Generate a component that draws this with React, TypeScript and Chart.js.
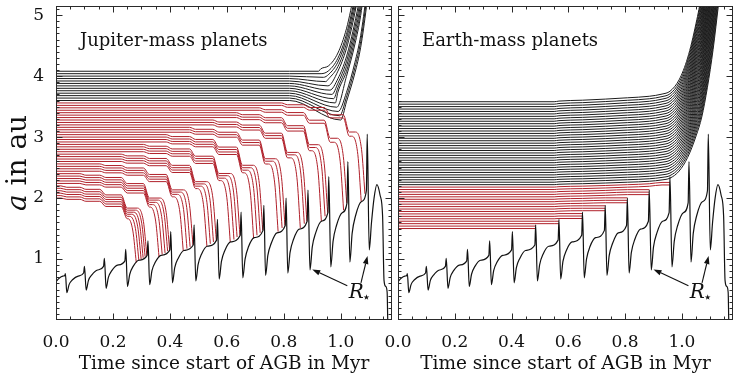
import React, { useEffect, useRef } from 'react';
import { Chart, registerables } from 'chart.js';

Chart.register(...registerables);

// ---------------- data ----------------
const xTickValues = [0, 0.2, 0.4, 0.6, 0.8, 1.0];
const yTickValues = [1, 2, 3, 4, 5];

// thermal pulse times (Myr)
const pulseTimes = [0.033, 0.100, 0.170, 0.245, 0.323, 0.403, 0.485, 0.567, 0.650, 0.730, 0.808, 0.885, 0.958, 1.025, 1.093];

// stellar radius R* (au) vs time (Myr)
const starTime = [
  0, 0.012, 0.024, 0.031, 0.033, 0.038,
  0.046, 0.058, 0.078, 0.097, 0.100, 0.106,
  0.114, 0.126, 0.146, 0.167, 0.170, 0.176,
  0.184, 0.196, 0.216, 0.242, 0.245, 0.251,
  0.259, 0.271, 0.291, 0.320, 0.323, 0.329,
  0.337, 0.349, 0.369, 0.400, 0.403, 0.409,
  0.417, 0.429, 0.449, 0.482, 0.485, 0.491,
  0.499, 0.511, 0.531, 0.564, 0.567, 0.573,
  0.581, 0.593, 0.613, 0.647, 0.650, 0.656,
  0.664, 0.676, 0.696, 0.727, 0.730, 0.736,
  0.744, 0.756, 0.776, 0.805, 0.808, 0.814,
  0.822, 0.834, 0.854, 0.882, 0.885, 0.892,
  0.900, 0.912, 0.932, 0.955, 0.958, 0.965,
  0.973, 0.985, 1.005, 1.022, 1.025, 1.032,
  1.040, 1.052, 1.072, 1.090, 1.093, 1.100,
  1.108, 1.117, 1.127, 1.138, 1.147, 1.152, 1.158, 1.163, 1.165,
];
const starRadius = [
  0.63, 0.69, 0.72, 0.73, 0.76, 0.45,
  0.58, 0.66, 0.72, 0.77, 0.88, 0.49,
  0.65, 0.74, 0.82, 0.88, 1.01, 0.52,
  0.70, 0.81, 0.90, 0.97, 1.16, 0.55,
  0.75, 0.88, 0.98, 1.06, 1.30, 0.58,
  0.81, 0.95, 1.06, 1.15, 1.45, 0.61,
  0.86, 1.01, 1.14, 1.23, 1.56, 0.64,
  0.91, 1.08, 1.21, 1.31, 1.65, 0.67,
  0.96, 1.14, 1.28, 1.39, 1.77, 0.69,
  1.00, 1.20, 1.35, 1.47, 1.88, 0.73,
  1.06, 1.26, 1.43, 1.55, 2.00, 0.77,
  1.11, 1.32, 1.49, 1.62, 2.13, 0.82,
  1.20, 1.43, 1.62, 1.76, 2.35, 0.87,
  1.29, 1.55, 1.76, 1.92, 2.60, 0.95,
  1.42, 1.71, 1.94, 2.12, 3.05, 1.15,
  1.60, 2.00, 2.22, 2.05, 1.70, 0.65, 0.55, 0.45, 0,
];

// orbital expansion factor due to stellar mass loss
const expansionTime = [0, 0.55, 0.567, 0.65, 0.73, 0.808, 0.885, 0.93, 0.958, 0.99, 1.02, 1.05, 1.07, 1.09, 1.11, 1.13, 1.15];
const expansionFactor = [1, 1, 1.003, 1.007, 1.012, 1.018, 1.025, 1.035, 1.048, 1.10, 1.20, 1.36, 1.50, 1.72, 2.00, 2.35, 2.70];

// tidal shelf fractions for the last four pulses before engulfment (k-1 .. k-4)
const tidalShelfFraction = [0.32, 0.13, 0.05, 0.02];

// Jupiter-mass planets: engulfed (red)
const jupiterRedStart = [
  2.00, 2.04, 2.08, 2.12, 2.16, 2.20, 2.24, 2.28, 2.32, 2.36,
  2.40, 2.44, 2.48, 2.52, 2.56, 2.60, 2.64, 2.68, 2.72, 2.76,
  2.80, 2.84, 2.88, 2.92, 2.96, 3.00, 3.04, 3.08, 3.12, 3.16,
  3.20, 3.24, 3.28, 3.32, 3.36, 3.40, 3.44, 3.48, 3.52, 3.56,
];
const jupiterRedEngulfTime = [
  0.282, 0.291, 0.299, 0.306, 0.313, 0.319,
  0.362, 0.373, 0.383, 0.392, 0.399,
  0.447, 0.460, 0.471, 0.481,
  0.530, 0.542, 0.553, 0.563,
  0.612, 0.625, 0.636, 0.646,
  0.694, 0.706, 0.717, 0.726,
  0.780, 0.794, 0.804,
  0.858, 0.872, 0.881,
  0.932, 0.945, 0.954,
  1.010, 1.021,
  1.072, 1.085,
];
const jupiterRedEngulfA = [
  0.94, 0.98, 1.00, 1.02, 1.04, 1.06,
  1.03, 1.07, 1.10, 1.13, 1.15,
  1.13, 1.17, 1.20, 1.23,
  1.21, 1.25, 1.28, 1.31,
  1.28, 1.32, 1.36, 1.39,
  1.34, 1.39, 1.43, 1.47,
  1.45, 1.51, 1.55,
  1.51, 1.58, 1.62,
  1.62, 1.70, 1.76,
  1.80, 1.92,
  1.94, 2.07,
];

// Jupiter-mass planets: surviving (black)
const jupiterBlackStart = [3.60, 3.64, 3.68, 3.72, 3.76, 3.80, 3.84, 3.88, 3.92, 3.96, 4.00, 4.04, 4.08];
const jupiterBlackMinTime = [1.000, 0.996, 0.991, 0.986, 0.981, 0.975, 0.969, 0.962, 0.955, 0.947, 0.939, 0.931, 0.922];
const jupiterBlackMinA = [3.28, 3.35, 3.42, 3.49, 3.56, 3.63, 3.70, 3.77, 3.84, 3.91, 3.98, 4.04, 4.08];

// Earth-mass planets: engulfed (red)
const earthRedStart = [1.50, 1.54, 1.58, 1.62, 1.66, 1.70, 1.74, 1.78, 1.82, 1.86, 1.90, 1.94, 1.98, 2.02, 2.06, 2.10, 2.14, 2.18];
const earthRedEndTime = [0.485, 0.485, 0.567, 0.567, 0.650, 0.650, 0.650, 0.730, 0.730, 0.730, 0.808, 0.808, 0.808, 0.885, 0.885, 0.885, 0.958, 0.958];

// Earth-mass planets: surviving (black)
const earthBlackStart = [2.22, 2.26, 2.30, 2.34, 2.38, 2.42, 2.46, 2.50, 2.54, 2.58, 2.62, 2.66, 2.70, 2.74, 2.78, 2.82, 2.86, 2.90, 2.94, 2.98, 3.02, 3.06, 3.10, 3.14, 3.18, 3.22, 3.26, 3.30, 3.34, 3.38, 3.42, 3.46, 3.50, 3.54, 3.58];

// annotation (data coordinates)
const rStarLabel = [1.028, 0.36];
const rStarArrows = [
  [1.023, 0.56, 0.900, 0.83],
  [1.071, 0.61, 1.094, 1.05],
];

// ---------------- builders ----------------
type P = { x: number; y: number };

const RED = 'rgb(176,32,42)';
const BLACK = '#1c1c1c';
const SERIF = '"DejaVu Serif", "Liberation Serif", serif';

function starTrack(): P[] {
  return starTime.map((t, i) => ({ x: t, y: starRadius[i] }));
}

function jupiterRedTrack(i: number): P[] {
  const a0 = jupiterRedStart[i];
  const te = jupiterRedEngulfTime[i];
  const land = jupiterRedEngulfA[i];
  const span = a0 - land;
  const before = pulseTimes.filter((p) => p < te - 0.02);
  const last = before.slice(-4).reverse();
  const pts: P[] = [{ x: 0, y: a0 }];
  let level = a0;
  for (let j = last.length - 1; j >= 0; j--) {
    const p = last[j];
    const next = a0 - tidalShelfFraction[j] * span;
    pts.push({ x: p - 0.016, y: level }, { x: p + 0.005, y: next });
    level = next;
  }
  const startPlunge = Math.max(te - 0.034, (last.length ? last[0] : 0) + 0.008);
  pts.push({ x: startPlunge, y: level }, { x: te - 0.012, y: level - 0.28 * (level - land) }, { x: te, y: land });
  return pts;
}

function jupiterBlackTrack(j: number): P[] {
  const a0 = jupiterBlackStart[j];
  const tMin = jupiterBlackMinTime[j];
  const aMin = jupiterBlackMinA[j];
  let fRef = 1;
  expansionTime.forEach((t, k) => {
    if (t <= tMin) fRef = expansionFactor[k];
  });
  const pts: P[] = [{ x: 0, y: a0 }, { x: 0.82, y: a0 }, { x: tMin, y: aMin }];
  for (let k = 0; k < expansionTime.length; k++) {
    if (expansionTime[k] > tMin + 0.005) {
      const y = (aMin * expansionFactor[k]) / fRef;
      pts.push({ x: expansionTime[k], y });
      if (y > 5.4) break;
    }
  }
  return pts;
}

function earthRedTrack(i: number): P[] {
  const a0 = earthRedStart[i];
  const end = earthRedEndTime[i];
  const pts: P[] = [];
  let f = 1;
  for (let k = 0; k < expansionTime.length; k++) {
    if (expansionTime[k] < end - 0.003) {
      f = expansionFactor[k];
      pts.push({ x: expansionTime[k], y: a0 * f });
    }
  }
  pts.push({ x: end, y: a0 * f });
  return pts;
}

function earthBlackTrack(i: number): P[] {
  const a0 = earthBlackStart[i];
  const pts: P[] = [];
  for (let k = 0; k < expansionTime.length; k++) {
    const y = a0 * expansionFactor[k];
    pts.push({ x: expansionTime[k], y });
    if (y > 5.4) break;
  }
  return pts;
}

function ds(data: P[], color: string, width: number) {
  return {
    data,
    borderColor: color,
    borderWidth: width,
    pointRadius: 0,
    fill: false,
    cubicInterpolationMode: 'monotone' as const,
  };
}

// ---------------- decoration plugin ----------------
function drawArrow(ctx: CanvasRenderingContext2D, x1: number, y1: number, x2: number, y2: number) {
  const ang = Math.atan2(y2 - y1, x2 - x1);
  const hl = 8;
  const hw = 2.8;
  const bx = x2 - hl * Math.cos(ang);
  const by = y2 - hl * Math.sin(ang);
  ctx.beginPath();
  ctx.moveTo(x1, y1);
  ctx.lineTo(bx, by);
  ctx.stroke();
  ctx.beginPath();
  ctx.moveTo(x2, y2);
  ctx.lineTo(bx + hw * Math.sin(ang), by - hw * Math.cos(ang));
  ctx.lineTo(bx - hw * Math.sin(ang), by + hw * Math.cos(ang));
  ctx.closePath();
  ctx.fill();
}

const decorPlugin = {
  id: 'decor',
  afterDatasetsDraw(chart: any, _args: any, opts: any) {
    const { ctx, chartArea } = chart;
    const xs = chart.scales.x;
    const ys = chart.scales.y;
    const L = Math.round(chartArea.left) + 0.5;
    const R = Math.round(chartArea.right) - 0.5;
    const T = Math.round(chartArea.top) + 0.5;
    const B = Math.round(chartArea.bottom) - 0.5;
    ctx.save();
    ctx.strokeStyle = '#2a2a2a';
    ctx.lineWidth = 1;
    ctx.strokeRect(L, T, R - L, B - T);
    ctx.beginPath();
    for (let i = 1; i <= 23; i++) {
      const px = Math.round(xs.getPixelForValue(i * 0.05)) + 0.5;
      const len = i % 4 === 0 ? 6 : 3;
      ctx.moveTo(px, B);
      ctx.lineTo(px, B - len);
      ctx.moveTo(px, T);
      ctx.lineTo(px, T + len);
    }
    for (let i = 1; i <= 51; i++) {
      const py = Math.round(ys.getPixelForValue(i * 0.1)) + 0.5;
      const len = i % 10 === 0 ? 6 : 3;
      ctx.moveTo(L, py);
      ctx.lineTo(L + len, py);
      ctx.moveTo(R, py);
      ctx.lineTo(R - len, py);
    }
    ctx.stroke();

    ctx.fillStyle = '#111';
    ctx.textBaseline = 'alphabetic';
    ctx.textAlign = 'left';
    ctx.font = '18px ' + SERIF;
    ctx.fillText(opts.label, chartArea.left + 24, chartArea.top + 40);

    // R* label
    const lx = xs.getPixelForValue(rStarLabel[0]);
    const ly = ys.getPixelForValue(rStarLabel[1]);
    ctx.font = 'italic 20px ' + SERIF;
    ctx.fillText('R', lx, ly);
    const w = ctx.measureText('R').width;
    ctx.font = '15px "DejaVu Sans", sans-serif';
    ctx.fillText('\u22C6', lx + w - 2, ly + 4);

    ctx.strokeStyle = '#111';
    ctx.fillStyle = '#111';
    ctx.lineWidth = 1.1;
    rStarArrows.forEach(([x1, y1, x2, y2]) => {
      drawArrow(ctx, xs.getPixelForValue(x1), ys.getPixelForValue(y1), xs.getPixelForValue(x2), ys.getPixelForValue(y2));
    });

    if (opts.yTitle) {
      const cy = (chartArea.top + chartArea.bottom) / 2;
      ctx.save();
      ctx.translate(26, cy);
      ctx.rotate(-Math.PI / 2);
      ctx.font = 'italic 28px ' + SERIF;
      const wa = ctx.measureText('a').width;
      ctx.font = '28px ' + SERIF;
      const wr = ctx.measureText(' in au').width;
      const start = -(wa + wr) / 2;
      ctx.font = 'italic 28px ' + SERIF;
      ctx.fillText('a', start, 0);
      ctx.font = '28px ' + SERIF;
      ctx.fillText(' in au', start + wa, 0);
      ctx.restore();
    }
    ctx.restore();
  },
};

function xScale() {
  return {
    type: 'linear' as const,
    min: 0,
    max: 1.18,
    afterFit: (s: any) => {
      s.height = 60;
      s.paddingLeft = 0;
      s.paddingRight = 0;
    },
    afterBuildTicks: (s: any) => {
      s.ticks = xTickValues.map((v) => ({ value: v }));
    },
    ticks: {
      callback: (v: any) => Number(v).toFixed(1),
      color: '#111',
      font: { family: SERIF, size: 17 },
      padding: 4,
      maxRotation: 0,
      autoSkip: false,
    },
    grid: { display: false },
    border: { display: false },
    title: {
      display: true,
      text: 'Time since start of AGB in Myr',
      color: '#111',
      font: { family: SERIF, size: 18.5 },
      padding: { top: 0, bottom: 5 },
    },
  };
}

function makeConfig(left: boolean): any {
  const datasets: any[] = [ds(starTrack(), '#111', 1.2)];
  if (left) {
    jupiterRedStart.forEach((_, i) => datasets.push(ds(jupiterRedTrack(i), RED, 1)));
    jupiterBlackStart.forEach((_, j) => datasets.push(ds(jupiterBlackTrack(j), BLACK, 1)));
  } else {
    earthRedStart.forEach((_, i) => datasets.push(ds(earthRedTrack(i), RED, 1)));
    earthBlackStart.forEach((_, i) => datasets.push(ds(earthBlackTrack(i), BLACK, 1)));
  }
  const yScale: any = left
    ? {
        type: 'linear',
        min: 0,
        max: 5.15,
        afterFit: (s: any) => {
          s.width = 56;
          s.paddingTop = 0;
          s.paddingBottom = 0;
        },
        afterBuildTicks: (s: any) => {
          s.ticks = yTickValues.map((v) => ({ value: v }));
        },
        ticks: { callback: (v: any) => String(v), color: '#111', font: { family: SERIF, size: 17 }, padding: 4 },
        grid: { display: false },
        border: { display: false },
      }
    : { type: 'linear', min: 0, max: 5.15, display: false };
  return {
    type: 'line',
    data: { datasets },
    options: {
      animation: false,
      responsive: false,
      devicePixelRatio: 1,
      events: [],
      layout: { padding: left ? { left: 0, top: 6, right: 349, bottom: 0 } : { left: 398, top: 6, right: 8, bottom: 0 } },
      plugins: {
        legend: { display: false },
        tooltip: { enabled: false },
        decor: { label: left ? 'Jupiter-mass planets' : 'Earth-mass planets', yTitle: left },
      },
      scales: { x: xScale(), y: yScale },
    },
    plugins: [decorPlugin],
  };
}

export default function App() {
  const leftRef = useRef<HTMLCanvasElement>(null);
  const rightRef = useRef<HTMLCanvasElement>(null);
  useEffect(() => {
    const c1 = new Chart(leftRef.current as HTMLCanvasElement, makeConfig(true));
    const c2 = new Chart(rightRef.current as HTMLCanvasElement, makeConfig(false));
    return () => {
      c1.destroy();
      c2.destroy();
    };
  }, []);
  return (
    <div style={{ position: 'absolute', left: 0, top: 0, width: 741, height: 380, background: '#fff' }}>
      <canvas ref={leftRef} width={741} height={380} style={{ position: 'absolute', left: 0, top: 0 }} />
      <canvas ref={rightRef} width={741} height={380} style={{ position: 'absolute', left: 0, top: 0 }} />
    </div>
  );
}
